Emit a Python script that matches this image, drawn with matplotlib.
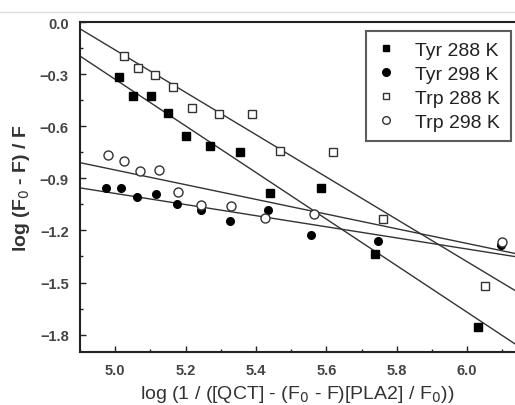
import numpy as np
import matplotlib
matplotlib.use('Agg')
import matplotlib.pyplot as plt
from matplotlib.ticker import MultipleLocator
from matplotlib.lines import Line2D

plt.rcParams['font.family'] = ['Liberation Sans', 'DejaVu Sans']

# Datos
tyr288_x = [5.011, 5.051, 5.102, 5.151, 5.200, 5.270, 5.355, 5.440, 5.584, 5.739, 6.030]
tyr288_y = [-0.317, -0.427, -0.427, -0.525, -0.657, -0.715, -0.750, -0.987, -0.954, -1.335, -1.756]

tyr298_x = [4.974, 5.016, 5.062, 5.115, 5.175, 5.244, 5.325, 5.433, 5.556, 5.746, 6.096]
tyr298_y = [-0.958, -0.954, -1.010, -0.992, -1.046, -1.085, -1.146, -1.083, -1.227, -1.260, -1.281]

trp288_x = [5.024, 5.064, 5.113, 5.165, 5.219, 5.294, 5.388, 5.467, 5.619, 5.760, 6.052]
trp288_y = [-0.198, -0.267, -0.306, -0.375, -0.494, -0.531, -0.527, -0.742, -0.748, -1.133, -1.518]

trp298_x = [4.981, 5.024, 5.071, 5.124, 5.178, 5.244, 5.328, 5.427, 5.565, 6.100]
trp298_y = [-0.763, -0.802, -0.858, -0.854, -0.979, -1.056, -1.060, -1.127, -1.108, -1.265]

# Rectas de ajuste (ordenada, pendiente)
fit_tyr288 = (6.375, -1.341)
fit_tyr298 = (0.613, -0.320)
fit_trp288 = (5.934, -1.219)
fit_trp298 = (1.263, -0.423)

labels = ['Tyr 288 K', 'Tyr 298 K', 'Trp 288 K', 'Trp 298 K']

XMIN, XMAX = 4.9, 6.136
YMIN, YMAX = -1.9, 0.0
dark = '#222222'
line_c = '#333333'

fig = plt.figure(figsize=(5.15, 4.06), dpi=100)
ax = fig.add_axes([0.1553, 0.1305, 0.8447, 0.8128])

# Rectas
xx = np.array([XMIN, XMAX])
for a, b in [fit_tyr288, fit_tyr298, fit_trp288, fit_trp298]:
    ax.plot(xx, a + b * xx, color=line_c, lw=1.0, zorder=2)

# Puntos
ax.plot(tyr288_x, tyr288_y, 's', color='black', ms=5.5, ls='none', zorder=3)
ax.plot(tyr298_x, tyr298_y, 'o', color='black', ms=5.5, ls='none', zorder=3)
ax.plot(trp288_x, trp288_y, 's', mfc='white', mec='#333333', mew=1.0, ms=6, ls='none', zorder=3)
ax.plot(trp298_x, trp298_y, 'o', mfc='white', mec='#333333', mew=1.0, ms=6.5, ls='none', zorder=3)

ax.set_xlim(XMIN, XMAX)
ax.set_ylim(YMIN, YMAX)
ax.xaxis.set_major_locator(MultipleLocator(0.2))
ax.xaxis.set_minor_locator(MultipleLocator(0.1))
ax.yaxis.set_major_locator(MultipleLocator(0.3))
ax.yaxis.set_minor_locator(MultipleLocator(0.15))
ax.tick_params(which='both', direction='in', color=dark, width=1.0)
ax.tick_params(which='major', length=4)
ax.tick_params(which='minor', length=2.5)
ax.tick_params(labelsize=10.5, labelcolor='#444444')
ax.tick_params(axis='y', pad=8)
ax.tick_params(axis='x', pad=8)
for lab in ax.get_xticklabels() + ax.get_yticklabels():
    lab.set_fontweight('bold')

for s in ['left', 'bottom', 'top']:
    ax.spines[s].set_linewidth(1.5)
    ax.spines[s].set_color(dark)
ax.spines['right'].set_visible(False)

ax.set_xlabel('log (1 / ([QCT] - (F$_0$ - F)[PLA2] / F$_0$))', fontsize=14,
              color='#333333', labelpad=4)
ax.set_ylabel('log (F$_0$ - F) / F', fontsize=14, fontweight='bold',
              color='#333333', labelpad=6)

handles = [
    Line2D([], [], marker='s', color='black', ls='none', ms=5),
    Line2D([], [], marker='o', color='black', ls='none', ms=5.5),
    Line2D([], [], marker='s', mfc='white', mec='#333333', ls='none', ms=5),
    Line2D([], [], marker='o', mfc='white', mec='#333333', ls='none', ms=5.5),
]
leg = ax.legend(handles, labels, loc='upper right', bbox_to_anchor=(0.991, 0.973),
                fontsize=14, frameon=True, fancybox=False, handlelength=1.0,
                handletextpad=1.0, labelspacing=0.32, borderpad=0.55,
                borderaxespad=0)
leg.get_frame().set_edgecolor('#333333')
leg.get_frame().set_linewidth(1.5)
for t in leg.get_texts():
    t.set_color('#222222')

# Línea gris fina arriba
fig.add_artist(Line2D([0, 1], [1 - 13 / 406, 1 - 13 / 406], color='#dddddd', lw=1))

fig.savefig('out.png', dpi=100)
